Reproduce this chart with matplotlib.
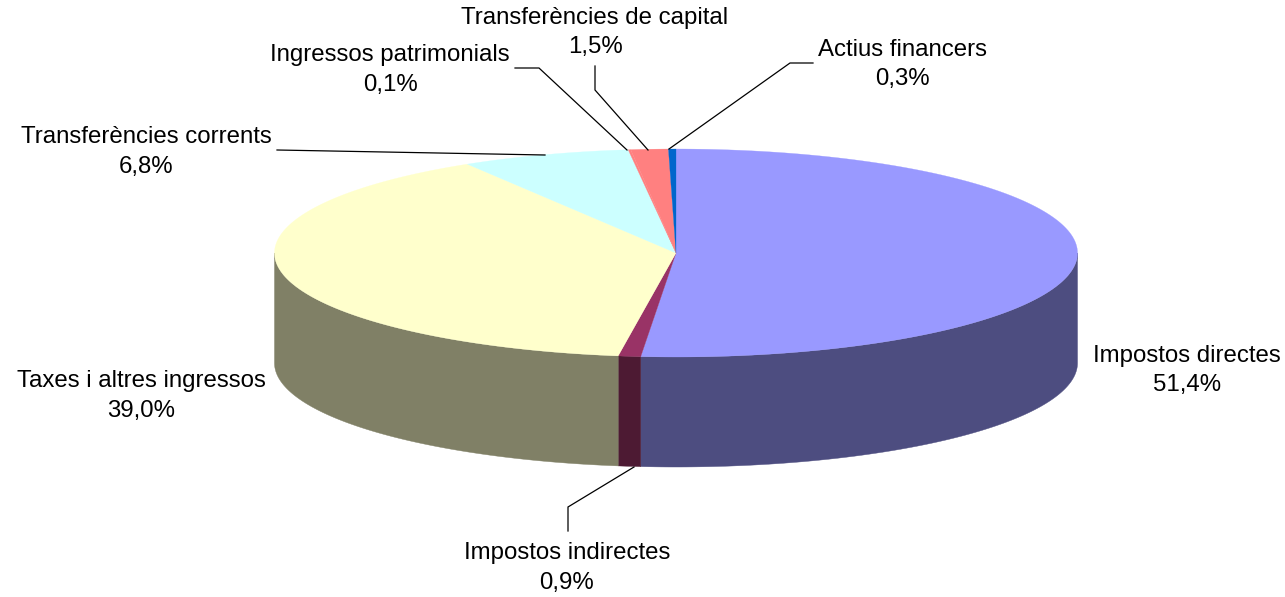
import numpy as np
import matplotlib
matplotlib.use("Agg")
import matplotlib.pyplot as plt

categories = ["Impostos directes", "Impostos indirectes", "Taxes i altres ingressos",
              "Transferències corrents", "Ingressos patrimonials",
              "Transferències de capital", "Actius financers"]
values = [51.4, 0.9, 39.0, 6.8, 0.1, 1.5, 0.3]
value_labels = ["51,4%", "0,9%", "39,0%", "6,8%", "0,1%", "1,5%", "0,3%"]
top_colors = ["#9999FF", "#993366", "#FFFFCC", "#CCFFFF", "#FF8080", "#FF8080", "#0066CC"]
side_colors = ["#4D4D80", "#4D1A33", "#808066", "#668080", "#804040", "#804040", "#003366"]

# layout, in pixels of the figure
W, H = 1285, 597
CX, CY, RX, RY, DEPTH = 676.0, 253.0, 401.5, 104.0, 110.0
FS = 17.25
label_xy = [(1187, 356), (567, 553), (141, 381), (146, 137), (390, 55), (595, 18), (902, 50)]
LINE_GAP = 29.5
leaders = {
    1: [(568, 531), (568, 507), (634, 467)],
    3: [(277, 150), (545, 155)],
    4: [(515, 68), (539, 68), (627, 150)],
    5: [(595, 66), (595, 90), (648, 150)],
    6: [(813, 63), (790, 63), (669, 149)],
}

plt.rcParams["font.family"] = ["Liberation Sans", "DejaVu Sans"]
fig = plt.figure(figsize=(W / 100, H / 100), dpi=100, facecolor="white")
ax = fig.add_axes([0, 0, 1, 1])
ax.set_xlim(0, W)
ax.set_ylim(H, 0)
ax.axis("off")


def arc(a0, a1, dy=0.0):
    n = max(2, int(abs(a1 - a0) * 2) + 2)
    t = np.radians(np.linspace(a0, a1, n))
    return CX + RX * np.sin(t), CY - RY * np.cos(t) + dy


edges = np.concatenate([[0], np.cumsum(values)]) * 360.0 / sum(values)

# side walls: only the front half of the cylinder is visible
for i in range(len(values)):
    a0, a1 = max(edges[i], 90.0), min(edges[i + 1], 270.0)
    if a1 <= a0:
        continue
    x, y = arc(a0, a1)
    xb, yb = arc(a1, a0, DEPTH)
    ax.fill(np.r_[x, xb], np.r_[y, yb], fc=side_colors[i], ec=side_colors[i], lw=0.3, zorder=2)

# top faces
for i in range(len(values)):
    x, y = arc(edges[i], edges[i + 1])
    ax.fill(np.r_[CX, x], np.r_[CY, y], fc=top_colors[i], ec=top_colors[i], lw=0.2, zorder=3)

for pts in leaders.values():
    xs, ys = zip(*pts)
    ax.plot(xs, ys, color="black", lw=0.9, zorder=4, solid_joinstyle="miter")

for (x, y), name, val in zip(label_xy, categories, value_labels):
    ax.text(x, y, name, ha="center", va="center", fontsize=FS, color="black", zorder=5)
    ax.text(x, y + LINE_GAP, val, ha="center", va="center", fontsize=FS, color="black", zorder=5)

fig.savefig("out.png", dpi=100, facecolor="white")
